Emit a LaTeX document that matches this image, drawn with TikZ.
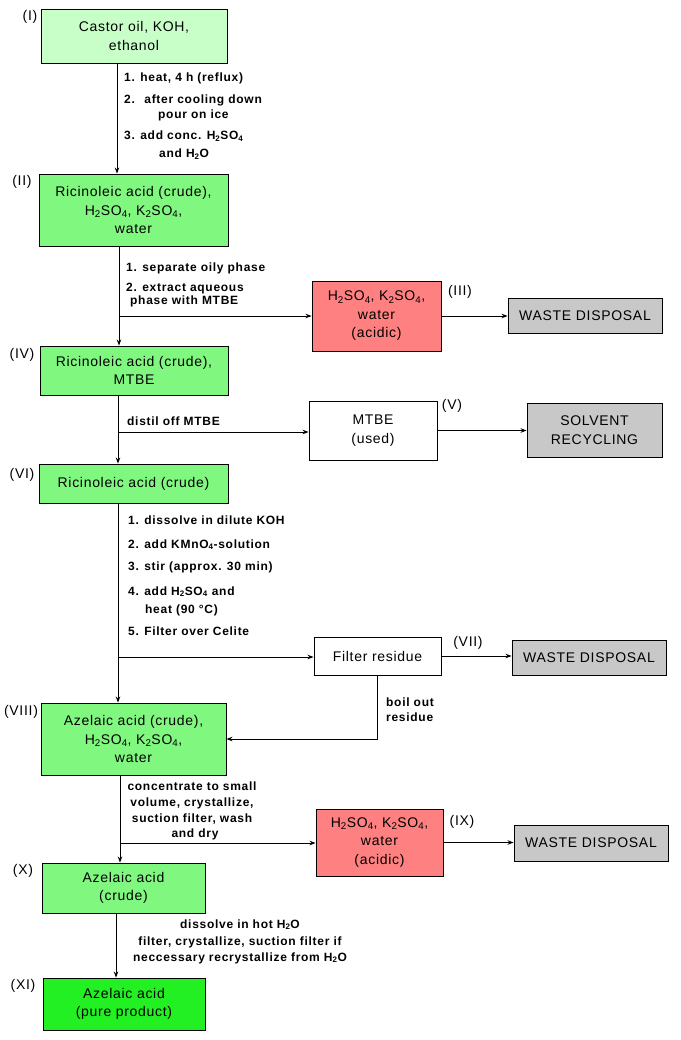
\documentclass[tikz,border=0pt]{standalone}
\usepackage{fontspec}
\setmainfont{Liberation Sans}
\newfontfamily\bx[LetterSpace=5]{Liberation Sans}
\newfontfamily\lb[LetterSpace=6]{Liberation Sans}
\usetikzlibrary{arrows.meta}
\definecolor{palegreen}{RGB}{200,255,200}
\definecolor{midgreen}{RGB}{128,248,128}
\definecolor{brightgreen}{RGB}{34,240,34}
\definecolor{salmon}{RGB}{255,128,128}
\definecolor{wastegray}{RGB}{200,200,200}
\newcommand\HSO{H\textsubscript{2}SO\textsubscript{4}}
\newcommand\KSO{K\textsubscript{2}SO\textsubscript{4}}
\newcommand\HHO{H\textsubscript{2}O}
\tikzset{
 box/.style={draw, line width=0.9pt, inner sep=0pt, align=center, font=\bx\fontsize{14}{18.5}\selectfont},
 arr/.style={line width=0.9pt, -{Stealth[length=6pt,width=4.5pt]}},
 lab/.style={inner sep=0pt, font=\lb\bfseries\fontsize{12}{14}\selectfont, anchor=base west},
 labc/.style={lab, anchor=base},
 num/.style={inner sep=0pt, font=\bx\fontsize{14}{16}\selectfont},
}
\begin{document}
\begin{tikzpicture}[x=1pt,y=-1pt]
\useasboundingbox[fill=white] (0,0) rectangle (680,1040);
% boxes
\node[box, fill=palegreen, minimum width=186pt, minimum height=54pt] (n1) at (134,36) {Castor oil, KOH,\\ethanol};
\node[box, fill=midgreen, minimum width=189pt, minimum height=72pt] (n2) at (133.5,210) {Ricinoleic acid (crude),\\\HSO, \KSO,\\water};
\node[box, fill=salmon, minimum width=129pt, minimum height=70pt] (n3) at (376.5,316) {\HSO, \KSO,\\water\\(acidic)};
\node[box, fill=wastegray, minimum width=154pt, minimum height=35pt] (w1) at (585,315.5) {WASTE DISPOSAL};
\node[box, fill=midgreen, minimum width=188pt, minimum height=49pt] (n4) at (134,370.5) {Ricinoleic acid (crude),\\MTBE};
\node[box, fill=white, minimum width=128pt, minimum height=59pt] (n5) at (373,430.5) {MTBE\\(used)};
\node[box, fill=wastegray, minimum width=135pt, minimum height=54pt] (rec) at (594.5,430) {SOLVENT\\RECYCLING};
\node[box, fill=midgreen, minimum width=189pt, minimum height=39pt] (n6) at (133.5,483.5) {Ricinoleic acid (crude)};
\node[box, fill=white, minimum width=127pt, minimum height=38pt] (n7) at (377.5,656) {Filter residue};
\node[box, fill=wastegray, minimum width=154pt, minimum height=35pt] (w2) at (589,657.5) {WASTE DISPOSAL};
\node[box, fill=midgreen, minimum width=185pt, minimum height=72pt] (n8) at (133.5,739) {Azelaic acid (crude),\\\HSO, \KSO,\\water};
\node[box, fill=salmon, minimum width=127pt, minimum height=67pt] (n9) at (379.5,842.5) {\HSO, \KSO,\\water\\(acidic)};
\node[box, fill=wastegray, minimum width=154pt, minimum height=36pt] (w3) at (591,843) {WASTE DISPOSAL};
\node[box, fill=midgreen, minimum width=163pt, minimum height=50pt] (n10) at (123.5,888) {Azelaic acid\\(crude)};
\node[box, fill=brightgreen, minimum width=162pt, minimum height=52pt] (n11) at (124,1004) {Azelaic acid\\(pure product)};
% roman numerals
\node[num] (r1) at (30,17) {(I)};
\node[num] (r2) at (22,182) {(II)};
\node[num] (r3) at (460,292) {(III)};
\node[num] (r4) at (22,355) {(IV)};
\node[num] (r5) at (452,406) {(V)};
\node[num] (r6) at (22,475) {(VI)};
\node[num] (r7) at (468,643) {(VII)};
\node[num] (r8) at (21,712) {(VIII)};
\node[num] (r9) at (462,822) {(IX)};
\node[num] (r10) at (23,871) {(X)};
\node[num] (r11) at (23,986) {(XI)};
% junction coordinates
\coordinate (m1) at (117,0);
\coordinate (j2) at (119,316);
\coordinate (j4) at (118,432);
\coordinate (j6) at (118,657);
\coordinate (j8) at (120,843);
\coordinate (m6) at (116,0);
% connectors
\draw[arr] (n1.south -| m1) -- (n2.north -| m1);
\draw[arr] (n2.south -| j2) -- (n4.north -| j2);
\draw[arr] (j2) -- (n3.west |- j2);
\draw[arr] (n3.east) -- (w1.west |- n3.east);
\draw[arr] (n4.south -| j4) -- (n6.north -| j4);
\draw[arr] (j4) -- (n5.west |- j4);
\draw[arr] (n5.east) -- (rec.west |- n5.east);
\draw[arr] (n6.south -| j6) -- (n8.north -| j6);
\draw[arr] (j6) -- (n7.west |- j6);
\draw[arr] (n7.east) -- (w2.west |- n7.east);
\draw[arr] (n7.south) |- (n8.east);
\draw[arr] (n8.south -| j8) -- (n10.north -| j8);
\draw[arr] (j8) -- (n9.west |- j8);
\draw[arr] (n9.east) -- (w3.west |- n9.east);
\draw[arr] (n10.south -| m6) -- (n11.north -| m6);
% step labels
\node[lab] (s1a) at (124,82) {1. heat, 4 h (reflux)};
\node[lab] (s1b) at (124,104) {2. \ after cooling down};
\node[lab] (s1c) at (158,119) {pour on ice};
\node[lab] (s1d) at (124,140) {3. add conc. \HSO};
\node[lab] (s1e) at (159,158) {and \HHO};
\node[lab] (s2a) at (126,272) {1. separate oily phase};
\node[lab] (s2b) at (126,291) {2. extract aqueous};
\node[lab] (s2c) at (130,305) {phase with MTBE};
\node[lab] (s4a) at (127,425) {distil off MTBE};
\node[lab] (s6a) at (128,524) {1. dissolve in dilute KOH};
\node[lab] (s6b) at (128,548) {2. add KMnO\textsubscript{4}-solution};
\node[lab] (s6c) at (128,570) {3. stir (approx. 30 min)};
\node[lab] (s6d) at (128,595) {4. add \HSO\ and};
\node[lab] (s6e) at (145,613) {heat (90 °C)};
\node[lab] (s6f) at (128,635) {5. Filter over Celite};
\node[lab] (s7a) at (386,706) {boil out};
\node[lab] (s7b) at (386,721) {residue};
\node[labc] (s8a) at (192,790) {concentrate to small};
\node[labc] (s8b) at (192,806) {volume, crystallize,};
\node[labc] (s8c) at (192,822) {suction filter, wash};
\node[labc] (s8d) at (195,837) {and dry};
\node[labc] (s10a) at (240,928) {dissolve in hot \HHO};
\node[labc] (s10b) at (240,945) {filter, crystallize, suction filter if};
\node[labc] (s10c) at (240,961) {neccessary recrystallize from \HHO};
\end{tikzpicture}
\end{document}
